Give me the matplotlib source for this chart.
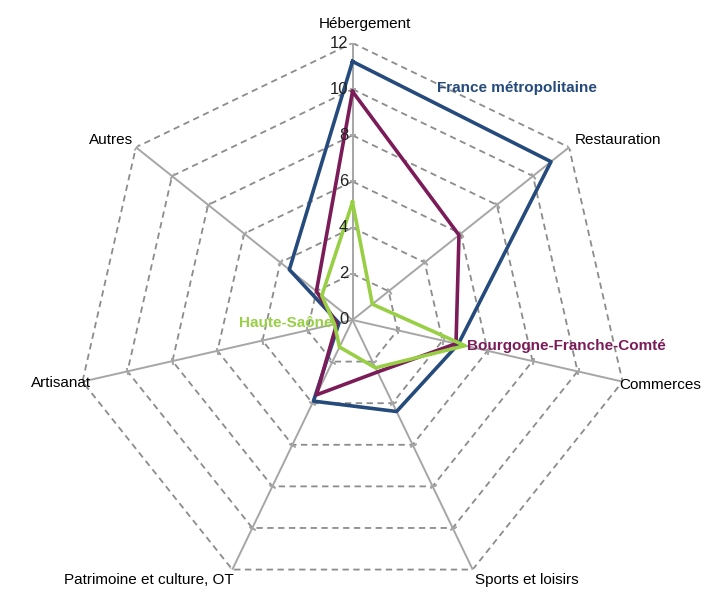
import numpy as np
import matplotlib
matplotlib.use("Agg")
import matplotlib.pyplot as plt
from matplotlib import font_manager as fm

categories = ["Hébergement", "Restauration", "Commerces", "Sports et loisirs",
              "Patrimoine et culture, OT", "Artisanat", "Autres"]
france = [11.2, 11.0, 4.7, 4.4, 3.9, 0.6, 3.5]
bfc = [9.9, 5.9, 4.6, 2.5, 3.6, 0.7, 2.0]
haute_saone = [5.1, 1.1, 5.0, 2.3, 1.3, 0.8, 1.7]
r_ticks = [0, 2, 4, 6, 8, 10, 12]

names = {f.name for f in fm.fontManager.ttflist}
fam = "Liberation Sans Narrow" if "Liberation Sans Narrow" in names else "Liberation Sans"
plt.rcParams["font.family"] = [fam, "DejaVu Sans"]

W, H = 717, 592
fig = plt.figure(figsize=(W / 100, H / 100), dpi=100)
cx, cy, R = 352.5, 320, 277
ax = fig.add_axes([(cx - R) / W, (H - cy - R) / H, 2 * R / W, 2 * R / H], projection="polar")
ax.set_theta_zero_location("N")
ax.set_theta_direction(-1)
ax.set_ylim(0, 12)
ax.axis("off")

n = len(categories)
theta = np.arange(n) * 2 * np.pi / n
tc = np.append(theta, theta[0])

grid_col = "#8c8c8c"
for r in r_ticks[1:]:
    ax.plot(tc, [r] * (n + 1), color=grid_col, lw=1.3, ls=(0, (3.5, 2.5)), zorder=1)
for i, t in enumerate(theta):
    ax.plot([t, t], [0, 12], color="#a6a6a6", lw=1.4, zorder=2)
    a = np.degrees(t)
    ax.plot([t] * len(r_ticks[1:]), r_ticks[1:], ls="none", marker=(2, 2, 90 - a),
            ms=5, mec="#a6a6a6", mew=1.2, zorder=2)

cols = {"fr": "#254a7c", "bfc": "#7b1c59", "hs": "#98cf45"}
ax.plot(tc, france + france[:1], color=cols["fr"], lw=2.6, zorder=5)
ax.plot(tc, bfc + bfc[:1], color=cols["bfc"], lw=2.6, zorder=6)
ax.plot(tc, haute_saone + haute_saone[:1], color=cols["hs"], lw=2.6, zorder=7)

for r in r_ticks:
    ax.annotate(str(r), (0, r), xytext=(-3, 0), textcoords="offset points",
                ha="right", va="center", fontsize=12, color="#222222", zorder=8)

# category labels: (offset px x, offset px y(down), ha, va)
lab = [
    (12, -19, "center", "center"),
    (6, -7, "left", "center"),
    (-3, 3, "left", "center"),
    (2, 10, "left", "center"),
    (1, 10, "right", "center"),
    (9, 1, "right", "center"),
    (-3, -7, "right", "center"),
]
for t, name, (dx, dy, ha, va) in zip(theta, categories, lab):
    ax.annotate(name, (t, 12), xytext=(dx * 0.72, -dy * 0.72), textcoords="offset points",
                ha=ha, va=va, fontsize=11, color="black")

fig.text(517 / W, 1 - 88 / H, "France métropolitaine", color=cols["fr"], fontsize=11,
         fontweight="bold", ha="center", va="center")
fig.text(467 / W, 1 - 346 / H, "Bourgogne-Franche-Comté", color=cols["bfc"], fontsize=11,
         fontweight="bold", ha="left", va="center")
fig.text(333 / W, 1 - 323 / H, "Haute-Saône", color=cols["hs"], fontsize=11,
         fontweight="bold", ha="right", va="center")

fig.savefig("out.png", dpi=100)
